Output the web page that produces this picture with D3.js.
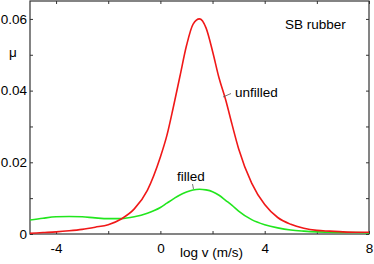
<!DOCTYPE html>
<html>
<head>
<meta charset="utf-8">
<script src="https://cdn.jsdelivr.net/npm/d3@7"></script>
<style>
  body { margin: 0; background: #fff; }
  text { font-family: "Liberation Sans", Arial, sans-serif; font-size: 13.5px; fill: #000; }
</style>
</head>
<body>
<svg width="374" height="264"></svg>
<script>
const logV = [-5, -4.5, -4, -3.5, -3, -2.5, -2, -1.5, -1, -0.5, 0, 0.25, 0.5, 0.75, 1, 1.25, 1.5, 1.75, 2, 2.25, 2.5, 2.75, 3, 3.5, 4, 4.5, 5, 5.5, 6, 6.5, 7, 7.5, 8];
const unfilled = [0.0002, 0.0004, 0.0006, 0.0009, 0.0013, 0.0019, 0.0026, 0.0042, 0.0070, 0.0122, 0.0215, 0.0275, 0.0355, 0.0440, 0.0525, 0.0585, 0.0600, 0.0575, 0.0510, 0.0435, 0.0375, 0.0305, 0.0238, 0.0142, 0.0082, 0.0046, 0.0027, 0.0016, 0.0010, 0.0008, 0.0006, 0.0005, 0.0005];
const filled = [0.0039, 0.0044, 0.0048, 0.0049, 0.0048, 0.0045, 0.0043, 0.0043, 0.0048, 0.0058, 0.0074, 0.0086, 0.0098, 0.0109, 0.0117, 0.0123, 0.0125, 0.0123, 0.0118, 0.0108, 0.0094, 0.0080, 0.0064, 0.0040, 0.0026, 0.0017, 0.0011, 0.0008, 0.0006, 0.0005, 0.0004, 0.0004, 0.0003];

const xTicks = [-4, 0, 4, 8];
const xMinor = [-2, 2, 6];
const yTicks = [0, 0.02, 0.04, 0.06];
const yMinor = [0.01, 0.03, 0.05];

const svg = d3.select('svg');
const margin = { top: 1, right: 5, bottom: 30, left: 30 };
const width = +svg.attr('width');
const height = +svg.attr('height');
const innerWidth = width - margin.left - margin.right;
const innerHeight = height - margin.top - margin.bottom;

const xScale = d3.scaleLinear().domain([-5, 8]).range([0, innerWidth]);
const yScale = d3.scaleLinear().domain([0, 0.065]).range([innerHeight, 0]);

const g = svg.append('g')
  .attr('transform', `translate(${margin.left},${margin.top})`);

// ticks pointing inward on all four sides
const tickLen = 3;
const tickStyle = sel => sel.selectAll('.tick line').attr('stroke', '#333');

const xb = g.append('g').attr('transform', `translate(0,${innerHeight})`)
  .call(d3.axisBottom(xScale).tickValues(xTicks.concat(xMinor)).tickSize(-tickLen).tickPadding(5)
    .tickFormat(d => xTicks.includes(d) ? d : ''));
xb.select('.domain').remove();
xb.selectAll('text').attr('dy', '1.05em').style('font-size', '13.5px').style('font-family', 'Liberation Sans, Arial, sans-serif');
tickStyle(xb);

const xt = g.append('g')
  .call(d3.axisTop(xScale).tickValues(xTicks.concat(xMinor)).tickSize(-tickLen).tickFormat(''));
xt.select('.domain').remove();
tickStyle(xt);

const yl = g.append('g')
  .call(d3.axisLeft(yScale).tickValues(yTicks.concat(yMinor)).tickSize(-tickLen).tickPadding(3)
    .tickFormat(d => yTicks.includes(d) ? (d === 0 ? '0' : d3.format('.2f')(d)) : ''));
yl.select('.domain').remove();
yl.selectAll('text').style('font-size', '13.5px').style('font-family', 'Liberation Sans, Arial, sans-serif');
tickStyle(yl);

const yr = g.append('g').attr('transform', `translate(${innerWidth},0)`)
  .call(d3.axisRight(yScale).tickValues(yTicks.concat(yMinor)).tickSize(-tickLen).tickFormat(''));
yr.select('.domain').remove();
tickStyle(yr);

// frame
g.append('rect')
  .attr('width', innerWidth)
  .attr('height', innerHeight)
  .attr('fill', 'none')
  .attr('stroke', '#333')
  .attr('stroke-width', 1.2);

const lineGen = ys => d3.line()
  .x((d, i) => xScale(logV[i]))
  .y(d => yScale(d))
  .curve(d3.curveMonotoneX)(ys);

g.append('path')
  .attr('d', lineGen(filled))
  .attr('fill', 'none')
  .attr('stroke', '#22e61e')
  .attr('stroke-width', 1.6);

g.append('path')
  .attr('d', lineGen(unfilled))
  .attr('fill', 'none')
  .attr('stroke', '#f01818')
  .attr('stroke-width', 1.6);

// annotations
g.append('text').attr('x', 255).attr('y', 28).text('SB rubber');
g.append('text').attr('x', 205).attr('y', 96).text('unfilled');
g.append('line').attr('x1', 193).attr('y1', 96).attr('x2', 201).attr('y2', 92.5)
  .attr('stroke', '#555').attr('stroke-width', 0.8);
g.append('text').attr('x', 147).attr('y', 180).text('filled');
g.append('line').attr('x1', 162.5).attr('y1', 183).attr('x2', 163.5).attr('y2', 188)
  .attr('stroke', '#555').attr('stroke-width', 0.8);

svg.append('text')
  .attr('x', margin.left + innerWidth / 2 + 12)
  .attr('y', 257)
  .attr('text-anchor', 'middle')
  .text('log v (m/s)');

svg.append('text')
  .attr('x', 9)
  .attr('y', 57)
  .text('μ');
</script>
</body>
</html>
